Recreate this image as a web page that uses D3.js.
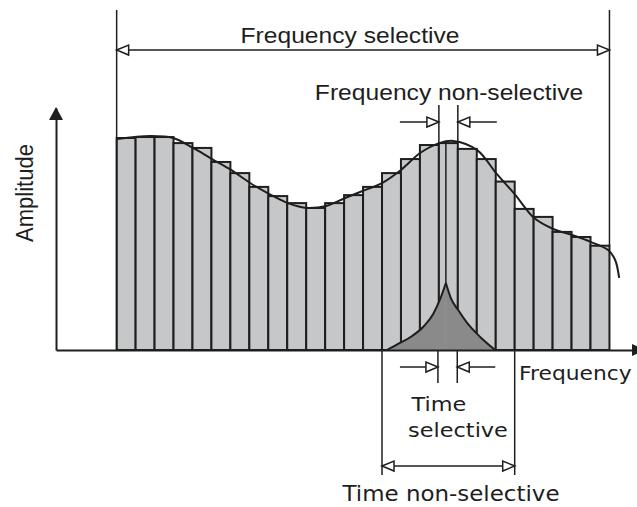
<!DOCTYPE html>
<html>
<head>
<meta charset="utf-8">
<script src="https://cdn.jsdelivr.net/npm/d3@7"></script>
<style>
  body { margin: 0; background: #fff; }
  svg { display: block; }
</style>
</head>
<body>
<script>
// amplitude of each frequency bin (26 bins)
const binValues = [0.876, 0.880, 0.880, 0.855, 0.835, 0.777, 0.731, 0.674, 0.636, 0.607,
    0.587, 0.607, 0.640, 0.674, 0.731, 0.789, 0.847, 0.855, 0.831, 0.789,
    0.696, 0.583, 0.550, 0.488, 0.467, 0.431];

// smooth channel response
const curveFreq = [0.02, 1.76, 2.98, 4.03, 5.03, 6.04, 7.04, 8.04, 9.04, 10.05, 11.05, 12.05, 12.84, 14.0,
    15.0, 16.01, 17.02, 17.75, 19.02, 20.02, 21.02, 22.03, 23.03, 24.03, 25.03, 25.93, 26.3, 26.51];
const curveAmp = [0.872, 0.884, 0.876, 0.835, 0.789, 0.744, 0.690, 0.645, 0.607, 0.587, 0.595, 0.628, 0.653, 0.690,
    0.744, 0.814, 0.855, 0.864, 0.826, 0.731, 0.642, 0.545, 0.500, 0.475, 0.446, 0.413, 0.372, 0.298];

// signal spectrum (dark cusp)
const pulseFreq = [14.27, 14.95, 15.59, 16.22, 16.70, 17.07, 17.37, 17.65, 18.02, 18.49, 19.18, 19.97];
const pulseAmp = [0, 0.029, 0.058, 0.099, 0.149, 0.211, 0.277, 0.211, 0.165, 0.112, 0.054, 0];
const pulsePeak = 6;
const impulseTop = 0.862;

// spans marked by the dimension arrows, in bin units
const freqSelective = [0, 26];
const freqNonSelective = [17, 18];
const timeSelective = [16.95, 17.97];
const timeNonSelective = [14, 21];

const labels = {
    freqSel: "Frequency selective",
    freqNonSel: "Frequency non-selective",
    yAxis: "Amplitude",
    xAxis: "Frequency",
    timeSel: ["Time", "selective"],
    timeNonSel: "Time non-selective"
};

const ink = "#1e1e1e";
const stretch = 1.12;
const sansA = "'Liberation Sans', Arial, sans-serif";
const sansB = "'DejaVu Sans', Verdana, sans-serif";

const svg = d3.select("body").append("svg")
    .attr("width", 637)
    .attr("height", 507);

const x = d3.scaleLinear([-3.2, 27.4], [56, 636]);
const y = d3.scaleLinear([0, 1], [350, 108]);

const bars = selection => {
    selection.append("g")
        .selectAll("rect")
        .data(binValues)
        .join("rect")
        .attr("x", (d, i) => x(i))
        .attr("width", x(1) - x(0))
        .attr("y", d => y(d))
        .attr("height", d => y(0) - y(d))
        .attr("fill", "#c6c7c9")
        .attr("stroke", ink)
        .attr("stroke-width", 2);
}

const pulse = selection => {
    let pts = pulseFreq.map((f, i) => [f, pulseAmp[i]]);
    let halves = [pts.slice(0, pulsePeak + 1), pts.slice(pulsePeak)];
    let area = d3.area()
        .x(d => x(d[0])).y0(y(0)).y1(d => y(d[1]))
        .curve(d3.curveMonotoneX);
    let line = d3.line()
        .x(d => x(d[0])).y(d => y(d[1]))
        .curve(d3.curveMonotoneX);
    let g = selection.append("g");
    g.selectAll(".pulse-fill").data(halves).join("path")
        .attr("class", "pulse-fill")
        .attr("d", area)
        .attr("fill", "#8a8a8a");
    g.selectAll(".pulse-edge").data(halves).join("path")
        .attr("class", "pulse-edge")
        .attr("d", line)
        .attr("fill", "none")
        .attr("stroke", ink)
        .attr("stroke-width", 2);
    g.append("line")
        .attr("x1", x(pulseFreq[pulsePeak])).attr("x2", x(pulseFreq[pulsePeak]))
        .attr("y1", y(impulseTop)).attr("y2", y(pulseAmp[pulsePeak]))
        .attr("stroke", ink).attr("stroke-width", 1.5);
}

const response = selection => {
    let line = d3.line()
        .x(d => x(d[0])).y(d => y(d[1]))
        .curve(d3.curveCatmullRom);
    selection.append("path")
        .attr("d", line(curveFreq.map((f, i) => [f, curveAmp[i]])))
        .attr("fill", "none")
        .attr("stroke", ink)
        .attr("stroke-width", 2);
}

const axes = selection => {
    let xAxis = selection.append("g")
        .attr("transform", `translate(0,${y(0)})`)
        .call(d3.axisBottom(x).tickValues([]).tickSizeOuter(0));
    let yAxis = selection.append("g")
        .attr("transform", `translate(${x(-3.2)},0)`)
        .call(d3.axisLeft(y).tickValues([]).tickSizeOuter(0));
    selection.selectAll(".domain").attr("stroke", ink).attr("stroke-width", 2);
    // filled arrow heads
    selection.append("path")
        .attr("d", `M${x(-3.2)},${y(1) - 1}l-7,13h14z`)
        .attr("fill", ink);
    selection.append("path")
        .attr("d", `M645,${y(0)}l-13,-6v12z`)
        .attr("fill", ink);
}

// open triangle head, tip at (tx, ty), dir = +1 points right, -1 points left
const openHead = (g, tx, ty, dir) => {
    g.append("path")
        .attr("d", `M${tx},${ty}L${tx - dir * 12},${ty - 5}L${tx - dir * 12},${ty + 5}Z`)
        .attr("fill", "#fff")
        .attr("stroke", ink)
        .attr("stroke-width", 1.5);
}

const hline = (g, x1, x2, yy) => g.append("line")
    .attr("x1", x1).attr("x2", x2).attr("y1", yy).attr("y2", yy)
    .attr("stroke", ink).attr("stroke-width", 1.5);

const vline = (g, xx, y1, y2) => g.append("line")
    .attr("x1", xx).attr("x2", xx).attr("y1", y1).attr("y2", y2)
    .attr("stroke", ink).attr("stroke-width", 1.5);

// heads at both ends pointing outwards
const outward = (g, span, yy) => {
    let [a, b] = span.map(x);
    hline(g, a + 12, b - 12, yy);
    openHead(g, a, yy, -1);
    openHead(g, b, yy, 1);
}

// heads pointing in towards the span from outside
const inward = (g, span, yy, reach) => {
    let [a, b] = span.map(x);
    hline(g, a - reach, a - 12, yy);
    hline(g, b + 12, b + reach, yy);
    openHead(g, a, yy, 1);
    openHead(g, b, yy, -1);
}

const annotations = selection => {
    let g = selection.append("g");
    // frequency selective
    vline(g, x(freqSelective[0]), 10, y(0));
    vline(g, x(freqSelective[1]), 10, y(binValues[25]));
    outward(g, freqSelective, 50);
    // frequency non-selective
    freqNonSelective.forEach(f => vline(g, x(f), 105, y(binValues[17])));
    inward(g, freqNonSelective, 122, 39);
    // time selective
    timeSelective.forEach(f => vline(g, x(f), y(0), 383));
    inward(g, timeSelective, 367, 38);
    // time non-selective
    timeNonSelective.forEach(f => vline(g, x(f), y(0), 475));
    outward(g, timeNonSelective, 466);
}

const text = (g, str, tx, ty, font, size, anchor = "middle") => g.append("text")
    .attr("transform", `translate(${tx},${ty}) scale(${stretch},1)`)
    .attr("text-anchor", anchor)
    .attr("font-family", font)
    .attr("font-size", size)
    .attr("fill", ink)
    .text(str);

const texts = selection => {
    let g = selection.append("g");
    text(g, labels.freqSel, 350, 43, sansA, 22);
    text(g, labels.freqNonSel, 449, 100, sansA, 22);
    text(g, labels.xAxis, 519, 380, sansB, 19.5, "start");
    text(g, labels.timeSel[0], 439, 410.5, sansB, 20);
    text(g, labels.timeSel[1], 458, 437, sansB, 20);
    text(g, labels.timeNonSel, 451, 501, sansB, 20.5);
    g.append("text")
        .attr("transform", `translate(33,193) rotate(-90) scale(1,${stretch})`)
        .attr("text-anchor", "middle")
        .attr("font-family", sansA)
        .attr("font-size", 22)
        .attr("fill", ink)
        .text(labels.yAxis);
}

svg
    .call(bars)
    .call(pulse)
    .call(response)
    .call(axes)
    .call(annotations)
    .call(texts);
</script>
</body>
</html>
